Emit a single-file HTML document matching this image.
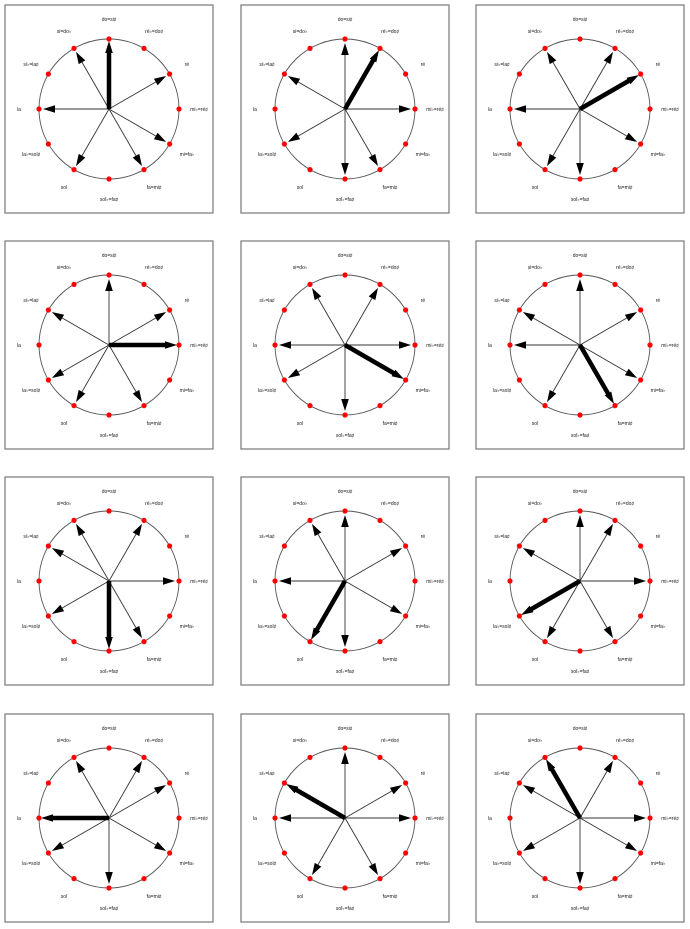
<!DOCTYPE html>
<html><head><meta charset="utf-8"><style>
html,body{margin:0;padding:0;background:#fff;}
svg{display:block;font-family:"Liberation Sans",sans-serif;}
</style></head>
<body>
<svg id="chart" width="690" height="929" viewBox="0 0 690 929"></svg>
<script>
const noteLabels = ["do=si♯","ré♭=do♯","ré","mi♭=ré♯","mi=fa♭","fa=mi♯","sol♭=fa♯","sol","la♭=sol♯","la","si♭=la♯","si=do♭"];
const majorSteps = [0,2,4,5,7,9,11];
const tonics = [0,1,2,3,4,5,6,7,8,9,10,11];
const NS = "http://www.w3.org/2000/svg";
const svg = document.getElementById('chart');
const colX = [109, 345, 580];
const rowY = [109, 345, 581, 818];
const R = 70;
function mk(tag, attrs, parent){
  const e = document.createElementNS(NS, tag);
  for (const k in attrs) e.setAttribute(k, attrs[k]);
  parent.appendChild(e);
  return e;
}
function pt(cx, cy, semis, r){
  const a = semis * Math.PI / 6;
  return [cx + r*Math.sin(a), cy - r*Math.cos(a)];
}
function arrow(g, cx, cy, semis, thick){
  const [tx, ty] = pt(cx, cy, semis, thick ? R-2 : R-4);
  const a = semis * Math.PI / 6;
  const ux = Math.sin(a), uy = -Math.cos(a);
  const hl = 12, hw = 3.8;
  const bx = tx - ux*hl, by = ty - uy*hl;
  const line = mk('line', {x1:cx, y1:cy, x2:bx+ux*2, y2:by+uy*2, stroke: thick ? '#000' : '#333', 'stroke-width': thick ? 4.5 : 0.9}, g);
  
  
  const head = mk('polygon', {points: `${tx},${ty} ${bx - uy*hw},${by + ux*hw} ${bx + uy*hw},${by - ux*hw}`, fill:'#000'}, g);
  
  
}
tonics.forEach((t, i) => {
  const cx = colX[i % 3], cy = rowY[Math.floor(i / 3)];
  const g = mk('g', {}, svg);
  
  
  const box = mk('rect', {x:cx-104, y:cy-104, width:208, height:208, fill:'none', stroke:'#777', 'stroke-width':1.2}, g);
  
  
  const circ = mk('circle', {cx, cy, r:R, fill:'none', stroke:'#555', 'stroke-width':0.9}, g);
  
  
  noteLabels.forEach((lab, k) => {
    const [lx, ly] = pt(cx, cy, k, 90);
    const tx = mk('text', {x:lx, y:ly+2, 'font-size':5, 'text-anchor':'middle', fill:'#222'}, g);
    tx.textContent = lab;
    
    
  });
  majorSteps.forEach(s => {
    const semis = (t + s) % 12;
    if (s !== 0) arrow(g, cx, cy, semis, false);
  });
  arrow(g, cx, cy, t, true);
  for (let k = 0; k < 12; k++){
    const [dx, dy] = pt(cx, cy, k, R);
    const d = mk('circle', {cx:dx, cy:dy, r:2.6, fill:'#f00'}, g);
    
    
  }
});
</script>
</body></html>
